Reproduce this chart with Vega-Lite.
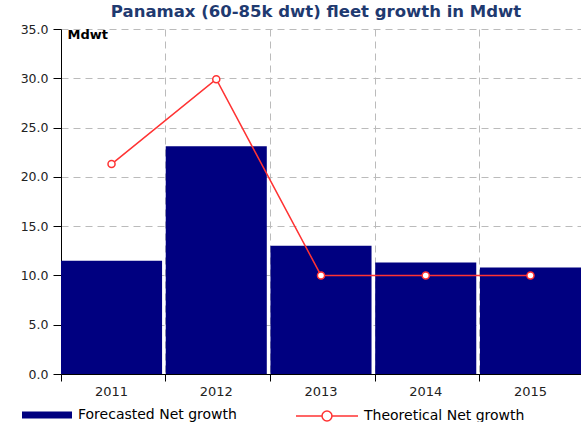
{
  "$schema": "https://vega.github.io/schema/vega-lite/v6.json",
  "width": 520,
  "height": 345,
  "autosize": "none",
  "padding": {"left": 61, "top": 29, "right": 0, "bottom": 48},
  "background": "white",
  "title": {
    "text": "Panamax (60-85k dwt) fleet growth in Mdwt",
    "font": "DejaVu Sans",
    "fontSize": 16.5,
    "fontWeight": "bold",
    "color": "#1F3A70",
    "anchor": "middle",
    "offset": 3,
    "dx": -5
  },
  "config": {
    "view": {"stroke": null},
    "font": "DejaVu Sans"
  },
  "data": {
    "values": [
      {"year": "2011", "series": "Forecasted Net growth", "value": 11.5},
      {"year": "2012", "series": "Forecasted Net growth", "value": 23.1},
      {"year": "2013", "series": "Forecasted Net growth", "value": 13.0},
      {"year": "2014", "series": "Forecasted Net growth", "value": 11.3},
      {"year": "2015", "series": "Forecasted Net growth", "value": 10.8},
      {"year": "2011", "series": "Theoretical Net growth", "value": 21.3},
      {"year": "2012", "series": "Theoretical Net growth", "value": 29.9},
      {"year": "2013", "series": "Theoretical Net growth", "value": 10.0},
      {"year": "2014", "series": "Theoretical Net growth", "value": 10.0},
      {"year": "2015", "series": "Theoretical Net growth", "value": 10.0}
    ]
  },
  "encoding": {
    "x": {
      "field": "year",
      "type": "ordinal",
      "scale": {"paddingInner": 0.035, "paddingOuter": 0},
      "axis": {
        "title": null,
        "labelAngle": 0,
        "bandPosition": 0,
        "labelFontSize": 13,
        "labelColor": "#222222",
        "labelPadding": 4,
        "tickColor": "#000000",
        "tickSize": 7,
        "domainColor": "#000000",
        "grid": true,
        "gridColor": "#BBBBBB",
        "gridDash": [7, 5]
      }
    },
    "y": {
      "field": "value",
      "type": "quantitative",
      "scale": {"domain": [0, 35], "nice": false},
      "axis": {
        "title": "Mdwt",
        "titleAngle": 0,
        "titleAlign": "left",
        "titleBaseline": "top",
        "titleX": 6,
        "titleY": -1,
        "titleFontSize": 13,
        "titleFontWeight": "bold",
        "titleColor": "#000000",
        "values": [0, 5, 10, 15, 20, 25, 30, 35],
        "format": ".1f",
        "labelFontSize": 12.5,
        "labelColor": "#222222",
        "labelPadding": 5,
        "tickColor": "#000000",
        "tickSize": 8,
        "domainColor": "#000000",
        "grid": true,
        "gridColor": "#BBBBBB",
        "gridDash": [7, 5]
      }
    }
  },
  "layer": [
    {
      "transform": [{"filter": "datum.series == 'Forecasted Net growth'"}],
      "mark": {"type": "bar"},
      "encoding": {
        "fill": {
          "field": "series",
          "type": "nominal",
          "scale": {"range": ["#000080"]},
          "legend": {
            "title": null,
            "orient": "none",
            "legendX": -39,
            "legendY": 361,
            "symbolType": "M-1,-0.14H1V0.14H-1Z",
            "symbolSize": 2500,
            "symbolStrokeWidth": 0,
            "labelFontSize": 14,
            "labelLimit": 300,
            "labelColor": "#000000",
            "labelOffset": 6
          }
        }
      }
    },
    {
      "transform": [{"filter": "datum.series == 'Theoretical Net growth'"}],
      "mark": {
        "type": "line",
        "strokeWidth": 1.5,
        "point": {"filled": false, "fill": "white", "size": 50, "strokeWidth": 1.5, "stroke": "#FF3333"}
      },
      "encoding": {
        "stroke": {
          "field": "series",
          "type": "nominal",
          "scale": {"range": ["#FF3333"]},
          "legend": {
            "title": null,
            "orient": "none",
            "legendX": 234,
            "legendY": 355,
            "symbolType": "M-1,0H-0.16M0.16,0H1M-0.16,0A0.16,0.16 0 1,1 0.16,0A0.16,0.16 0 1,1 -0.16,0Z",
            "symbolSize": 3844,
            "symbolFillColor": "white",
            "symbolStrokeWidth": 1.5,
            "labelFontSize": 14,
            "labelLimit": 300,
            "labelColor": "#000000",
            "labelOffset": 5
          }
        }
      }
    }
  ]
}
